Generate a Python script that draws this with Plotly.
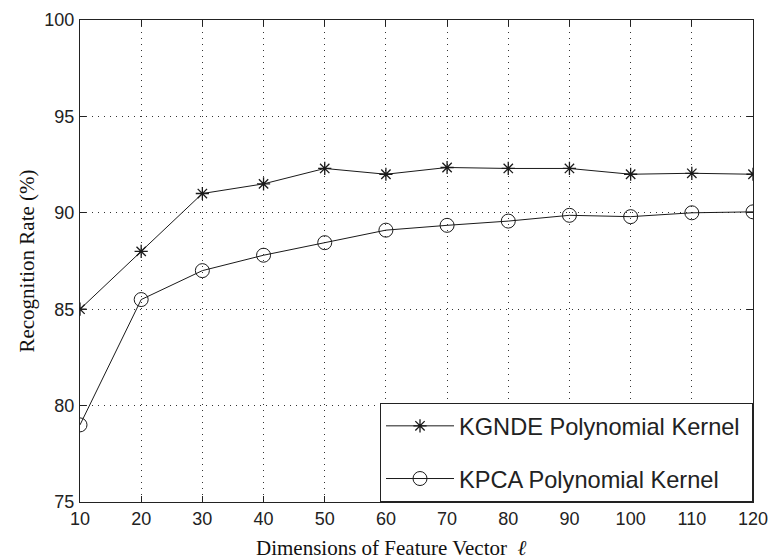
import plotly.graph_objects as go

dims = [10, 20, 30, 40, 50, 60, 70, 80, 90, 100, 110, 120]
kgnde = [85.0, 88.0, 91.0, 91.5, 92.3, 92.0, 92.35, 92.3, 92.3, 92.0, 92.05, 92.0]
kpca = [79.0, 85.5, 87.0, 87.8, 88.45, 89.1, 89.35, 89.57, 89.87, 89.8, 90.0, 90.05]
x_ticks = [10, 20, 30, 40, 50, 60, 70, 80, 90, 100, 110, 120]
y_ticks = [75, 80, 85, 90, 95, 100]

line_col = "#1a1a1a"
fig = go.Figure()
fig.add_trace(go.Scatter(
    x=dims, y=kgnde, mode="lines+markers", name="KGNDE Polynomial Kernel\u00a0",
    line=dict(color=line_col, width=1),
    marker=dict(symbol="asterisk-open", size=11, color=line_col, line=dict(width=1.3, color=line_col)),
    legendgroup="a",
))
fig.add_trace(go.Scatter(
    x=dims, y=kpca, mode="lines+markers", name="KPCA Polynomial Kernel",
    line=dict(color=line_col, width=1),
    marker=dict(symbol="circle-open", size=14, color=line_col, line=dict(width=1, color=line_col)),
    legendgroup="b",
))

axis_common = dict(
    showline=True, linecolor="#222", linewidth=1, mirror="allticks",
    ticks="inside", ticklen=6, tickcolor="#222",
    showgrid=True, gridcolor="#333", griddash="1px,5px", gridwidth=1,
    zeroline=False, automargin=False,
    tickfont=dict(family="Liberation Sans, Arial", size=18, color="#222"),
)
fig.update_xaxes(range=[10, 120], tickvals=x_ticks, **axis_common)
fig.update_yaxes(range=[75, 100], tickvals=y_ticks, ticklabelstandoff=1, **axis_common)

fig.update_layout(
    width=769, height=560,
    margin=dict(l=80, r=16, t=20, b=58),
    plot_bgcolor="white", paper_bgcolor="white",
    showlegend=True,
    legend=dict(
        x=1, xanchor="right", y=0, yanchor="bottom",
        bgcolor="white", bordercolor="#222", borderwidth=1,
        font=dict(family="Liberation Sans, Arial", size=23.6, color="#222"),
        tracegroupgap=19, itemwidth=68,
    ),
    yaxis_title=dict(text="Recognition Rate (%)", font=dict(family="Liberation Serif, Times New Roman", size=21, color="#111"), standoff=4),
    annotations=[dict(
        text="Dimensions of Feature Vector  <i>ℓ</i>", xref="paper", yref="paper",
        x=0.462, y=-0.067, xanchor="center", yanchor="top", showarrow=False,
        font=dict(family="Liberation Serif, Times New Roman", size=21, color="#111"),
    )],
)

fig.write_html(
    "out.html",
    config={"displayModeBar": False},
    post_script="document.body.style.margin='0';document.body.style.overflow='hidden';",
)
